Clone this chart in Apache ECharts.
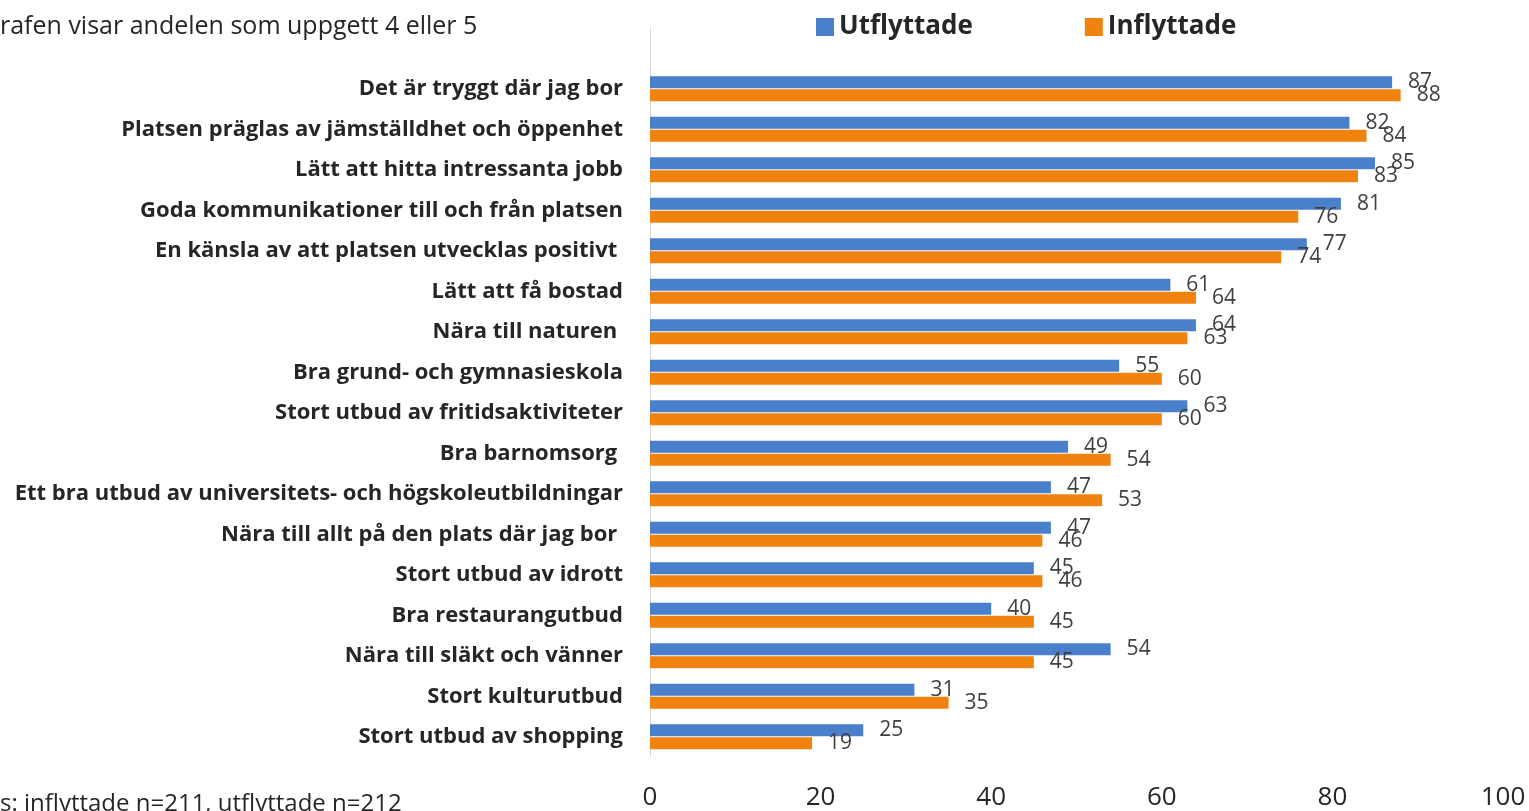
<!DOCTYPE html>
<html>
<head>
<meta charset="utf-8">
<script src="https://cdn.jsdelivr.net/npm/echarts@6/dist/echarts.min.js"></script>
<style>
  html, body { margin: 0; padding: 0; background: #fff; }
  #chart { width: 1529px; height: 811px; }
</style>
</head>
<body>
<div id="chart"></div>
<script>
// kategorier, uppifrån och ned (första raden är tom, som i originalet)
const categories = [
  '',
  'Det är tryggt där jag bor',
  'Platsen präglas av jämställdhet och öppenhet',
  'Lätt att hitta intressanta jobb',
  'Goda kommunikationer till och från platsen',
  'En känsla av att platsen utvecklas positivt ',
  'Lätt att få bostad',
  'Nära till naturen ',
  'Bra grund- och gymnasieskola',
  'Stort utbud av fritidsaktiviteter',
  'Bra barnomsorg ',
  'Ett bra utbud av universitets- och högskoleutbildningar',
  'Nära till allt på den plats där jag bor ',
  'Stort utbud av idrott',
  'Bra restaurangutbud',
  'Nära till släkt och vänner',
  'Stort kulturutbud',
  'Stort utbud av shopping'
]
const utflyttade = [null, 87, 82, 85, 81, 77, 61, 64, 55, 63, 49, 47, 47, 45, 40, 54, 31, 25]
const inflyttade = [null, 88, 84, 83, 76, 74, 64, 63, 60, 60, 54, 53, 46, 46, 45, 45, 35, 19]
const xTicks = [0, 20, 40, 60, 80, 100]

const FONT = '"Open Sans", sans-serif'
const labelStyle = {
  show: true,
  position: 'right',
  distance: 16,
  fontFamily: FONT,
  fontSize: 21,
  color: '#404040'
}

var myChart = echarts.init(document.getElementById('chart'))
myChart.setOption({
  animation: false,
  backgroundColor: '#fff',
  textStyle: { fontFamily: FONT },
  legend: {
    left: 811,
    top: 9,
    icon: 'rect',
    itemWidth: 18,
    itemHeight: 18,
    itemGap: 112,
    textStyle: { fontFamily: FONT, fontSize: 26, fontWeight: 'bold', color: '#262626' },
    data: ['Utflyttade', 'Inflyttade']
  },
  grid: { left: 650, right: 26, top: 28, bottom: 54, containLabel: false },
  xAxis: {
    type: 'value',
    min: xTicks[0],
    max: xTicks[xTicks.length - 1],
    interval: 20,
    splitLine: { show: false },
    axisLine: { show: false },
    axisTick: { show: false },
    axisLabel: { margin: 28, fontFamily: FONT, fontSize: 26, color: '#262626' }
  },
  yAxis: {
    type: 'category',
    inverse: true,
    data: categories,
    axisLine: { show: true, lineStyle: { color: '#d9d9d9', width: 1 } },
    axisTick: { show: false },
    axisLabel: { margin: 27, fontFamily: FONT, fontSize: 22, fontWeight: 'bold', color: '#262626' }
  },
  series: [
    {
      name: 'Utflyttade',
      type: 'bar',
      data: utflyttade,
      barWidth: 12,
      barGap: '10%',
      itemStyle: { color: '#4A7FCB' },
      label: labelStyle
    },
    {
      name: 'Inflyttade',
      type: 'bar',
      data: inflyttade,
      barWidth: 12,
      itemStyle: { color: '#F0820E' },
      label: labelStyle
    }
  ],
  graphic: [
    {
      type: 'text', left: 0, top: 14,
      style: { text: 'rafen visar andelen som uppgett 4 eller 5', fontFamily: FONT, fontSize: 25, fill: '#262626' }
    },
    {
      type: 'text', left: 0, top: 792,
      style: { text: 's: inflyttade n=211, utflyttade n=212', fontFamily: FONT, fontSize: 24, fill: '#262626' }
    }
  ]
})
</script>
</body>
</html>
